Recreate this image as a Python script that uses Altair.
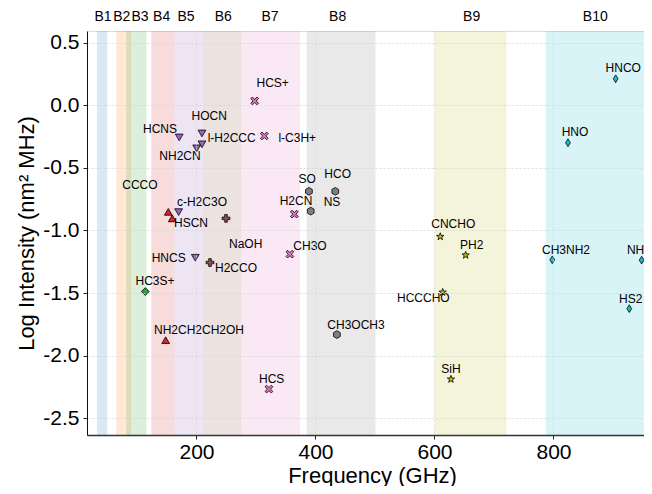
import altair as alt
import pandas as pd

# ---- bands (GHz) ----
band_names = ["B1", "B2", "B3", "B4", "B5", "B6", "B7", "B8", "B9", "B10"]
band_start = [33, 65, 82, 124, 163, 211, 275, 385, 600, 787]
band_end = [50, 90, 116, 163, 211, 275, 374, 501, 721, 952]
band_label_freq = [42.9, 74.3, 105, 141.5, 182.4, 245, 323.5, 437.3, 662.5, 870.3]
band_colors = ["#1f77b4", "#ff7f0e", "#2ca02c", "#d62728", "#9467bd",
               "#8c564b", "#e377c2", "#7f7f7f", "#bcbd22", "#17becf"]

# ---- molecules (points) ----
mol_names = ["HCS+", "HCNS", "HOCN", "l-H2CCC", "NH2CN", "l-C3H+", "c-H2C3O", "HSCN", "",
             "NaOH", "H2CCO", "HNCS", "HC3S+", "NH2CH2CH2OH", "HCS", "CH3O", "H2CN",
             "SO", "NS", "HCO", "CH3OCH3", "CNCHO", "PH2", "HCCCHO", "SiH",
             "CH3NH2", "NH", "HS2", "HNCO", "HNO"]
mol_band = ["B7", "B5", "B5", "B5", "B5", "B7", "B5", "B4", "B4",
            "B6", "B6", "B5", "B3", "B4", "B7", "B7", "B7",
            "B8", "B8", "B8", "B8", "B9", "B9", "B9", "B9",
            "B10", "B10", "B10", "B10", "B10"]
mol_freq = [297.8, 171, 209.2, 209.2, 200.3, 314, 170, 152.6, 159.3,
            249.6, 222.7, 198, 114, 148.2, 321.8, 357, 364.4,
            389, 392, 433.3, 436, 609.7, 652.4, 613.8, 627.7,
            798, 948.2, 927.4, 904.5, 824.4]
mol_logi = [0.036, -0.256, -0.224, -0.311, -0.343, -0.244, -0.853, -0.851, -0.903,
            -0.903, -1.256, -1.218, -1.488, -1.877, -2.268, -1.189, -0.869,
            -0.687, -0.845, -0.687, -1.832, -1.049, -1.197, -1.494, -2.189,
            -1.234, -1.237, -1.625, 0.213, -0.298]

# ---- label anchors (data units) ----
lab_text = ["HCS+", "HCNS", "HOCN", "l-H2CCC", "NH2CN", "l-C3H+", "CCCO", "c-H2C3O", "HSCN",
            "NaOH", "H2CCO", "HNCS", "HC3S+", "NH2CH2CH2OH", "HCS", "CH3O", "H2CN",
            "SO", "NS", "HCO", "CH3OCH3", "CNCHO", "PH2", "HCCCHO", "SiH",
            "CH3NH2", "NH", "HS2", "HNCO", "HNO"]
lab_freq = [328.1, 138.7, 221.5, 259.2, 172.3, 369.4, 105, 209.2, 190.8,
            282.7, 266.4, 153.3, 130.3, 204.2, 326.4, 390.8, 367.2,
            386.2, 427.7, 437.3, 468.1, 631.6, 662.5, 581.2, 627.7,
            821, 938, 929.7, 917.3, 836.1]
lab_logi = [0.181, -0.192, -0.083, -0.263, -0.401, -0.263, -0.639, -0.771, -0.943,
            -1.105, -1.303, -1.218, -1.401, -1.792, -2.189, -1.123, -0.768,
            -0.586, -0.771, -0.546, -1.752, -0.946, -1.117, -1.538, -2.107,
            -1.155, -1.155, -1.546, 0.298, -0.216]

x_ticks = [200, 400, 600, 800]
y_ticks = [-2.5, -2.0, -1.5, -1.0, -0.5, 0.0, 0.5]

STAR = ("M0,-1L0.235,-0.324L0.951,-0.309L0.38,0.124L0.588,0.809L0,0.4"
        "L-0.588,0.809L-0.38,0.124L-0.951,-0.309L-0.235,-0.324Z")
HEX = "M0,-1L0.866,-0.5L0.866,0.5L0,1L-0.866,0.5L-0.866,-0.5Z"
XSHAPE = ("M0,-0.4L0.6,-1L1,-0.6L0.4,0L1,0.6L0.6,1L0,0.4L-0.6,1L-1,0.6"
          "L-0.4,0L-1,-0.6L-0.6,-1Z")
PLUS = ("M-0.33,-1L0.33,-1L0.33,-0.33L1,-0.33L1,0.33L0.33,0.33L0.33,1L-0.33,1"
        "L-0.33,0.33L-1,0.33L-1,-0.33L-0.33,-0.33Z")
THIN_D = "M0,-1L0.62,0L0,1L-0.62,0Z"
band_shapes = ["circle", "circle", "diamond", "triangle-up", "triangle-down",
               PLUS, XSHAPE, HEX, STAR, THIN_D]

bands = pd.DataFrame({"band": band_names, "start": band_start, "end": band_end,
                      "lab": band_label_freq})
pts = pd.DataFrame({"mol": mol_names, "band": mol_band, "freq": mol_freq, "logi": mol_logi})
labs = pd.DataFrame({"text": lab_text, "freq": lab_freq, "logi": lab_logi})

FONT = "Liberation Sans"
W, H = 557, 404
xdom = [16, 16 + W / 0.595]
ydom = [-2.635, 0.595]

xscale = alt.Scale(domain=xdom, nice=False, zero=False)
yscale = alt.Scale(domain=ydom, nice=False, zero=False)
cscale = alt.Scale(domain=band_names, range=band_colors)

xaxis = alt.Axis(values=x_ticks, title="Frequency (GHz)", labelFontSize=21,
                 titleFontSize=22, titleFontWeight="normal", labelFont=FONT, titleFont=FONT,
                 labelColor="black", titleColor="black", tickColor="#222", tickSize=4,
                 labelPadding=2, domainColor="#333", domainWidth=1.3,
                 gridColor="#d4d4d4", gridDash=[2, 2], gridWidth=0.8,
                 titleX=285, titleY=47, titleBaseline="alphabetic", zindex=1)
yaxis = alt.Axis(values=y_ticks, title="Log Intensity (nm² MHz)",
                 labelExpr="(datum.value < 0 ? '-' : '') + format(abs(datum.value), '.1f')",
                 labelFontSize=21, titleFontSize=22, titleFontWeight="normal",
                 labelFont=FONT, titleFont=FONT, labelColor="black", titleColor="black",
                 tickColor="#222", tickSize=4, labelPadding=4, domainColor="#111",
                 domainWidth=1, gridColor="#d4d4d4", gridDash=[2, 2], gridWidth=0.8,
                 titleX=-61, titleY=H / 2, titleAngle=-90, titleBaseline="middle",
                 titleAlign="center", zindex=1)

rects = alt.Chart(bands).mark_rect(opacity=0.17).encode(
    x=alt.X("start:Q", scale=xscale, axis=xaxis),
    x2="end:Q",
    color=alt.Color("band:N", scale=cscale, legend=None),
)

band_text = alt.Chart(bands).mark_text(font=FONT, fontSize=14, color="black",
                                       baseline="middle").encode(
    x=alt.X("lab:Q", scale=xscale),
    y=alt.value(-14),
    text="band:N",
)

points = alt.Chart(pts).mark_point(filled=True, opacity=1, stroke="black",
                                   strokeWidth=0.8).encode(
    x=alt.X("freq:Q", scale=xscale),
    y=alt.Y("logi:Q", scale=yscale, axis=yaxis),
    color=alt.Color("band:N", scale=cscale, legend=None),
    shape=alt.Shape("band:N", scale=alt.Scale(domain=band_names, range=band_shapes),
                    legend=None),
    size=alt.Size("band:N", scale=alt.Scale(domain=band_names,
                                            range=[60, 60, 130, 80, 80, 85, 80, 60, 75, 110]),
                  legend=None),
)

labels = alt.Chart(labs).mark_text(font=FONT, fontSize=12, color="black",
                                   baseline="middle").encode(
    x=alt.X("freq:Q", scale=xscale),
    y=alt.Y("logi:Q", scale=yscale),
    text="text:N",
)

chart = alt.layer(rects, band_text, points, labels).properties(
    width=W, height=H,
    autosize=alt.AutoSizeParams(type="none"),
    padding={"left": 79, "top": 23, "right": 0, "bottom": 51},
).configure_view(stroke="#222", strokeWidth=1).configure(background="white")

chart.save("out.html", embed_options={"renderer": "svg", "actions": False})
